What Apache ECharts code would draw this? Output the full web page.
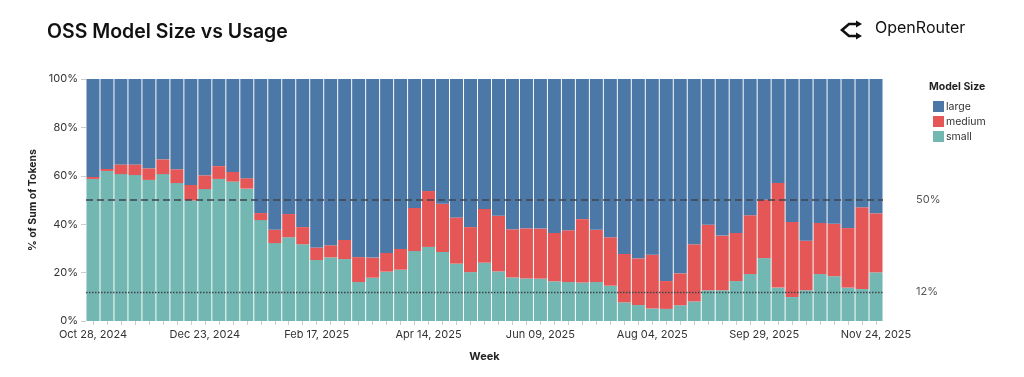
<!DOCTYPE html>
<html>
<head>
<meta charset="utf-8">
<script src="https://cdn.jsdelivr.net/npm/echarts@6/dist/echarts.min.js"></script>
<style>
  html, body { margin: 0; padding: 0; background: #fff; }
  #chart { width: 1024px; height: 377px; }
</style>
</head>
<body>
<div id="chart"></div>
<script>
// weekly buckets, Oct 28 2024 .. Nov 24 2025
let weeks = [];
let start = new Date(Date.UTC(2024, 9, 28));
const monthNames = ['Jan','Feb','Mar','Apr','May','Jun','Jul','Aug','Sep','Oct','Nov','Dec'];
for (let i = 0; i < 57; i++) {
    let d = new Date(start.getTime() + i * 7 * 86400000);
    let day = String(d.getUTCDate()).padStart(2, '0');
    weeks.push(monthNames[d.getUTCMonth()] + ' ' + day + ', ' + d.getUTCFullYear());
}

// share of tokens, percent
let small = [58.7, 62.0, 60.7, 60.3, 58.3, 60.7, 57.0, 49.8, 54.5, 58.7, 57.6, 54.7,
    41.7, 32.2, 34.6, 31.7, 25.2, 26.3, 25.6, 16.1, 17.9, 20.4, 21.2, 28.9,
    30.6, 28.5, 23.7, 20.2, 24.1, 20.5, 18.0, 17.6, 17.5, 16.4, 16.1, 15.9,
    16.1, 14.6, 7.7, 6.6, 5.2, 5.0, 6.5, 8.1, 12.7, 12.7, 16.5, 19.4,
    26.0, 13.8, 9.9, 12.7, 19.4, 18.5, 13.8, 13.2, 20.1];
let medium = [0.8, 0.8, 4.0, 4.4, 4.8, 6.1, 5.7, 6.4, 5.7, 5.3, 4.0, 4.3,
    2.9, 5.5, 9.6, 7.1, 5.2, 5.0, 7.9, 10.3, 8.3, 7.7, 8.6, 17.8,
    23.1, 20.0, 19.1, 18.6, 22.2, 23.0, 19.9, 20.7, 20.7, 20.0, 21.4, 26.2,
    21.6, 20.0, 20.0, 19.3, 22.2, 11.5, 13.2, 23.6, 27.1, 22.6, 19.9, 24.3,
    24.1, 43.2, 31.0, 20.5, 21.1, 21.7, 24.6, 33.8, 24.4];
let large = [40.5, 37.2, 35.3, 35.3, 36.9, 33.2, 37.3, 43.8, 39.8, 36.0, 38.4, 41.0,
    55.4, 62.3, 55.8, 61.2, 69.6, 68.7, 66.5, 73.6, 73.8, 71.9, 70.2, 53.3,
    46.3, 51.5, 57.2, 61.2, 53.7, 56.5, 62.1, 61.7, 61.8, 63.6, 62.5, 57.9,
    62.3, 65.4, 72.3, 74.1, 72.6, 83.5, 80.3, 68.3, 60.2, 64.7, 63.6, 56.3,
    49.9, 43.0, 59.1, 66.8, 59.5, 59.8, 61.6, 53.0, 55.5];
let refLines = [50, 12];

let colors = { large: '#4c78a8', medium: '#e45756', small: '#72b7b2' };
let fontFamily = 'Inter, "Noto Sans", sans-serif';

let chart = echarts.init(document.getElementById('chart'));

function barSeries(name, data) {
    return {
        name: name,
        type: 'bar',
        stack: 'share',
        data: data,
        barCategoryGap: '7%',
        itemStyle: { color: colors[name] },
        emphasis: { disabled: true }
    };
}

let seriesList = [barSeries('small', small), barSeries('medium', medium), barSeries('large', large)];
seriesList[2].markLine = {
    silent: true,
    symbol: 'none',
    data: [
        { yAxis: refLines[0], lineStyle: { type: [7, 4], color: '#3f444c', width: 1.6 } },
        { yAxis: refLines[1], lineStyle: { type: [1.5, 1.5], color: '#3f444c', width: 1.3 } }
    ],
    label: {
        position: 'end',
        distance: 33,
        formatter: function (p) { return p.value + '%'; },
        color: '#555',
        fontSize: 11,
        fontFamily: fontFamily
    }
};

chart.setOption({
    animation: false,
    title: {
        text: 'OSS Model Size vs Usage',
        left: 42,
        top: 17,
        textStyle: { fontSize: 19.5, fontWeight: 600, color: '#111', fontFamily: fontFamily }
    },
    legend: {
        data: ['large', 'medium', 'small'],
        orient: 'vertical',
        left: 928,
        top: 96,
        itemWidth: 11,
        itemHeight: 11,
        itemGap: 4,
        icon: 'rect',
        textStyle: { fontSize: 10.5, color: '#333', fontFamily: fontFamily, padding: [0, 0, 0, -3] }
    },
    graphic: [
        {
            type: 'text',
            left: 929,
            top: 81,
            style: { text: 'Model Size', font: 'bold 10.5px ' + fontFamily, fill: '#222' }
        },
        {
            type: 'text',
            left: 875,
            top: 20,
            style: { text: 'OpenRouter', font: '16px ' + fontFamily, fill: '#111' }
        },
        {
            type: 'polyline',
            shape: { points: [[859, 24], [849, 24], [842, 30], [849, 36], [859, 36]] },
            style: { stroke: '#111', lineWidth: 2.6, fill: null }
        },
        {
            type: 'polygon',
            shape: { points: [[856, 20.5], [862, 24], [856, 27.5]] },
            style: { fill: '#111' }
        },
        {
            type: 'polygon',
            shape: { points: [[856, 32.5], [862, 36], [856, 39.5]] },
            style: { fill: '#111' }
        }
    ],
    grid: { left: 86, right: 141, top: 79, bottom: 56 },
    xAxis: {
        type: 'category',
        data: weeks,
        name: 'Week',
        nameLocation: 'middle',
        nameGap: 30,
        nameTextStyle: { fontSize: 11, fontWeight: 'bold', color: '#222', fontFamily: fontFamily },
        axisLine: { show: false },
        axisTick: { show: true, interval: 0, alignWithLabel: true, length: 4, lineStyle: { color: '#ccc' } },
        axisLabel: { interval: 7, fontSize: 11, color: '#333', fontFamily: fontFamily, margin: 8 }
    },
    yAxis: {
        type: 'value',
        min: 0,
        max: 100,
        interval: 20,
        name: '% of Sum of Tokens',
        nameLocation: 'middle',
        nameGap: 48,
        nameTextStyle: { fontSize: 10.5, fontWeight: 'bold', color: '#222', fontFamily: fontFamily },
        axisLine: { show: false },
        axisTick: { show: true, length: 5, lineStyle: { color: '#ccc' } },
        splitLine: { show: false },
        axisLabel: { formatter: '{value}%', fontSize: 11, color: '#333', fontFamily: fontFamily, margin: 8 }
    },
    series: seriesList
});
</script>
</body>
</html>
